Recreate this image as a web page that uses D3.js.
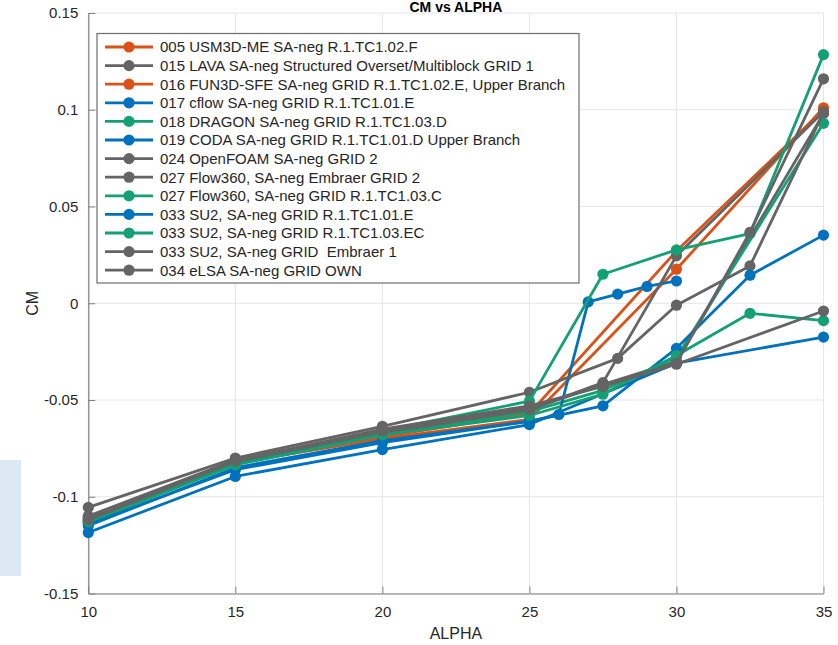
<!DOCTYPE html>
<html><head><meta charset="utf-8">
<script src="https://cdn.jsdelivr.net/npm/d3@7"></script>
<style>body{margin:0;background:#fff}svg{display:block;font-family:Helvetica,"Liberation Sans",Arial,sans-serif}</style>
</head><body>
<svg id="c" width="838" height="645"></svg>
<script>
const seriesNames = [
  "005 USM3D-ME SA-neg R.1.TC1.02.F",
  "015 LAVA SA-neg Structured Overset/Multiblock GRID 1",
  "016 FUN3D-SFE SA-neg GRID R.1.TC1.02.E, Upper Branch",
  "017 cflow SA-neg GRID R.1.TC1.01.E",
  "018 DRAGON SA-neg GRID R.1.TC1.03.D",
  "019 CODA SA-neg GRID R.1.TC1.01.D Upper Branch",
  "024 OpenFOAM SA-neg GRID 2",
  "027 Flow360, SA-neg Embraer GRID 2",
  "027 Flow360, SA-neg GRID R.1.TC1.03.C",
  "033 SU2, SA-neg GRID R.1.TC1.01.E",
  "033 SU2, SA-neg GRID R.1.TC1.03.EC",
  "033 SU2, SA-neg GRID  Embraer 1",
  "034 eLSA SA-neg GRID OWN"
];
const seriesColors = ["#D95319","#646464","#D95319","#0072BD","#13A075","#0072BD","#646464","#646464","#13A075","#0072BD","#13A075","#646464","#646464"];

const s005alpha = [10,15,20,25,30,35];
const s005cm    = [-0.1115,-0.0825,-0.0700,-0.0600,0.0176,0.1010];
const s015alpha = [10,15,20,25,30,35];
const s015cm    = [-0.1100,-0.0810,-0.0660,-0.0540,-0.0300,0.0980];
const s016alpha = [10,15,20,25,30,35];
const s016cm    = [-0.1130,-0.0830,-0.0690,-0.0570,0.0270,0.1000];
const s017alpha = [10,15,20,25,30,35];
const s017cm    = [-0.1185,-0.0895,-0.0756,-0.0627,-0.0310,-0.0175];
const s018alpha = [10,15,20,25,27.5,30,35];
const s018cm    = [-0.1130,-0.0830,-0.0680,-0.0560,-0.0450,-0.0280,0.0930];
const s019alpha = [10,15,20,25,26,27,28,29,30];
const s019cm    = [-0.1150,-0.0850,-0.0710,-0.0610,-0.0575,0.0007,0.0047,0.0087,0.0115];
const s024alpha = [10,15,20,25,28,30,32.5,35];
const s024cm    = [-0.1055,-0.0800,-0.0636,-0.0460,-0.0285,-0.0010,0.0193,0.0985];
const s027Ealpha = [10,15,20,25,27.5,30,35];
const s027Ecm    = [-0.1110,-0.0820,-0.0670,-0.0550,-0.0410,0.0245,0.0990];
const s027Calpha = [10,15,20,25,27.5,30,32.5,35];
const s027Ccm    = [-0.1120,-0.0815,-0.0660,-0.0506,0.0150,0.0276,0.0360,0.1285];
const s033Ealpha = [10,15,20,25,27.5,30,32.5,35];
const s033Ecm    = [-0.1140,-0.0860,-0.0720,-0.0610,-0.0530,-0.0233,0.0145,0.0352];
const s033ECalpha = [10,15,20,25,27.5,30,32.5,35];
const s033ECcm    = [-0.1130,-0.0835,-0.0680,-0.0580,-0.0470,-0.0270,-0.0052,-0.0090];
const s033Malpha = [10,15,20,25,27.5,30,32.5,35];
const s033Mcm    = [-0.1120,-0.0815,-0.0660,-0.0550,-0.0420,-0.0310,0.0367,0.1160];
const s034alpha = [10,15,20,25,27.5,30,35];
const s034cm    = [-0.1105,-0.0815,-0.0650,-0.0530,-0.0430,-0.0315,-0.0040];

const xTicks = [10,15,20,25,30,35];
const yTicks = [-0.15,-0.1,-0.05,0,0.05,0.1,0.15];
const yTickLabels = ["-0.15","-0.1","-0.05","0","0.05","0.1","0.15"];

const allAlpha = [s005alpha,s015alpha,s016alpha,s017alpha,s018alpha,s019alpha,s024alpha,s027Ealpha,s027Calpha,s033Ealpha,s033ECalpha,s033Malpha,s034alpha];
const allCm = [s005cm,s015cm,s016cm,s017cm,s018cm,s019cm,s024cm,s027Ecm,s027Ccm,s033Ecm,s033ECcm,s033Mcm,s034cm];

const svg = d3.select("#c");
const L = 88.3, R = 823.5, T = 13, B = 593.5;
const x = d3.scaleLinear().domain([10,35]).range([L,R]);
const y = d3.scaleLinear().domain([-0.15,0.15]).range([B,T]);

// left light blue patch
svg.append("rect").attr("x",0).attr("y",460).attr("width",21).attr("height",116).attr("fill","#dde8f5");

// grid
const g = svg.append("g");
g.selectAll(".vx").data(xTicks).join("line").attr("x1",d=>x(d)).attr("x2",d=>x(d)).attr("y1",T).attr("y2",B).attr("stroke","#e6e6e6").attr("stroke-width",1);
g.selectAll(".hy").data(yTicks).join("line").attr("y1",d=>y(d)).attr("y2",d=>y(d)).attr("x1",L).attr("x2",R).attr("stroke","#e6e6e6").attr("stroke-width",1);

// axes
const xAxis = d3.axisBottom(x).tickValues(xTicks).tickSizeInner(-7).tickSizeOuter(0).tickPadding(13);
const yAxis = d3.axisLeft(y).tickValues(yTicks).tickFormat((d,i)=>yTickLabels[i]).tickSizeInner(-7).tickSizeOuter(0).tickPadding(10);
const gx = svg.append("g").attr("transform",`translate(0,${B})`).call(xAxis);
const gy = svg.append("g").attr("transform",`translate(${L},0)`).call(yAxis);
[gx,gy].forEach(a=>{
  a.select(".domain").attr("stroke","#808080").attr("stroke-width",1.2);
  a.selectAll(".tick line").attr("stroke","#808080").attr("stroke-width",1);
  a.selectAll(".tick text").attr("fill","#262626").attr("font-size",15).attr("font-family","Helvetica,'Liberation Sans',Arial,sans-serif");
});

// data
const line = d3.line().x(d=>x(d[0])).y(d=>y(d[1]));
const plot = svg.append("g");
allAlpha.forEach((al,i)=>{
  const pts = al.map((a,j)=>[a,allCm[i][j]]);
  plot.append("path").attr("d",line(pts)).attr("fill","none").attr("stroke",seriesColors[i]).attr("stroke-width",2.8).attr("stroke-linejoin","round");
  plot.selectAll(null).data(pts).join("circle").attr("cx",d=>x(d[0])).attr("cy",d=>y(d[1])).attr("r",5.6).attr("fill",seriesColors[i]);
});

// legend
const lg = svg.append("g");
lg.append("rect").attr("x",97).attr("y",33.5).attr("width",482).attr("height",249.5).attr("fill","#fff").attr("stroke","#6e6e6e").attr("stroke-width",1.2);
seriesNames.forEach((n,i)=>{
  const yy = 47 + i*18.6;
  lg.append("line").attr("x1",105).attr("x2",153).attr("y1",yy).attr("y2",yy).attr("stroke",seriesColors[i]).attr("stroke-width",2.8);
  lg.append("circle").attr("cx",129).attr("cy",yy).attr("r",5.6).attr("fill",seriesColors[i]);
  lg.append("text").attr("x",160).attr("y",yy).attr("dy","0.36em").attr("font-size",15).attr("fill","#262626").attr("xml:space","preserve").style("white-space","pre").text(n);
});

// labels
svg.append("text").attr("x",(L+R)/2).attr("y",12).attr("text-anchor","middle").attr("font-weight","bold").attr("font-size",14).attr("fill","#000").text("CM vs ALPHA");
svg.append("text").attr("x",(L+R)/2).attr("y",639).attr("text-anchor","middle").attr("font-size",16).attr("fill","#262626").text("ALPHA");
svg.append("text").attr("transform",`translate(38,${(T+B)/2}) rotate(-90)`).attr("text-anchor","middle").attr("font-size",16).attr("fill","#262626").text("CM");
</script>
</body></html>
